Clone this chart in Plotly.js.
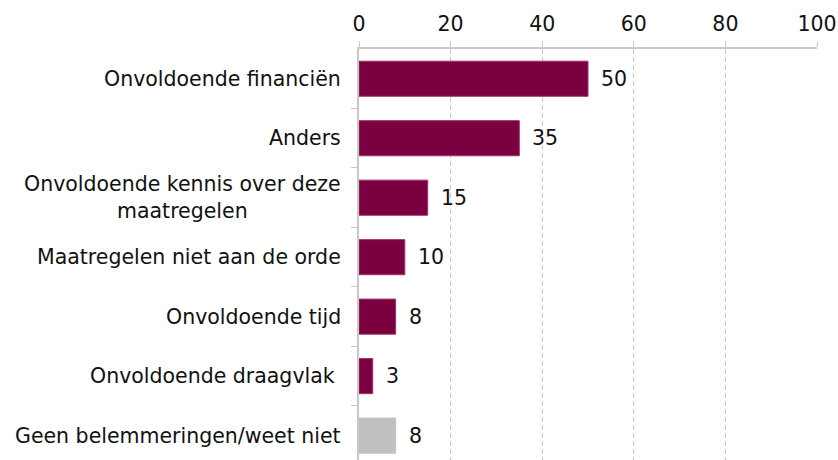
<!DOCTYPE html>
<html>
<head>
<meta charset="utf-8">
<script src="https://cdn.plot.ly/plotly-3.0.1.min.js"></script>
<style>
html,body{margin:0;padding:0;overflow:hidden;background:#fff;}
#chart{width:838px;height:460px;}
</style>
</head>
<body>
<div id="chart"></div>
<script>
const categories = [
  "Onvoldoende financiën",
  "Anders",
  "Onvoldoende kennis over deze<br>maatregelen",
  "Maatregelen niet aan de orde",
  "Onvoldoende tijd",
  "Onvoldoende draagvlak\u00a0",
  "Geen belemmeringen/weet niet"
];
const values = [50, 35, 15, 10, 8, 3, 8];
const barColors = ["#7b0040", "#7b0040", "#7b0040", "#7b0040", "#7b0040", "#7b0040", "#c0c0c0"];
const tickVals = [0, 20, 40, 60, 80, 100];

const FONT = "DejaVu Sans, sans-serif";
const FS = 20.5;
const yIdx = categories.map((c, i) => i);

const trace = {
  type: "bar",
  orientation: "h",
  x: values,
  y: yIdx,
  marker: {color: barColors, line: {color: barColors.map(c => c === "#c0c0c0" ? "#c0c0c0" : "#9a3366"), width: 1}},
  hoverinfo: "none"
};

const annotations = [];
categories.forEach((c, i) => {
  annotations.push({
    xref: "paper", yref: "y", x: 0, y: i, xanchor: "right", yanchor: "middle",
    xshift: -16, text: c, showarrow: false, align: "center",
    font: {family: FONT, size: FS, color: "#111"}
  });
  annotations.push({
    xref: "x", yref: "y", x: values[i], y: i, xanchor: "left", yanchor: "middle",
    xshift: 11, text: String(values[i]), showarrow: false,
    font: {family: FONT, size: FS, color: "#111"}
  });
});

const layout = {
  width: 838, height: 460,
  margin: {l: 359, r: 21, t: 49, b: 0, pad: 0},
  paper_bgcolor: "#fff", plot_bgcolor: "#fff",
  showlegend: false,
  bargap: 0.41,
  font: {family: FONT, size: FS, color: "#111"},
  xaxis: {
    side: "top", range: [0, 100], tickvals: tickVals, ticktext: tickVals.map(String),
    showgrid: true, gridcolor: "#c8c8c8", griddash: "5px,3px", gridwidth: 1,
    showline: true, linecolor: "#c8c8c8", linewidth: 2,
    ticks: "outside", ticklen: 6, tickcolor: "#c8c8c8", tickwidth: 1,
    ticklabelstandoff: 2,
    zeroline: false, fixedrange: true,
    tickfont: {family: FONT, size: FS, color: "#111"}
  },
  yaxis: {
    range: [6.41, -0.5], tickvals: [0.5, 1.5, 2.5, 3.5, 4.5, 5.5], showticklabels: false,
    ticks: "outside", ticklen: 6, tickcolor: "#c8c8c8", tickwidth: 1,
    showline: true, linecolor: "#c8c8c8", linewidth: 2,
    showgrid: false, zeroline: false, fixedrange: true
  },
  annotations: annotations
};

Plotly.newPlot("chart", [trace], layout, {displayModeBar: false, staticPlot: true});
</script>
</body>
</html>
